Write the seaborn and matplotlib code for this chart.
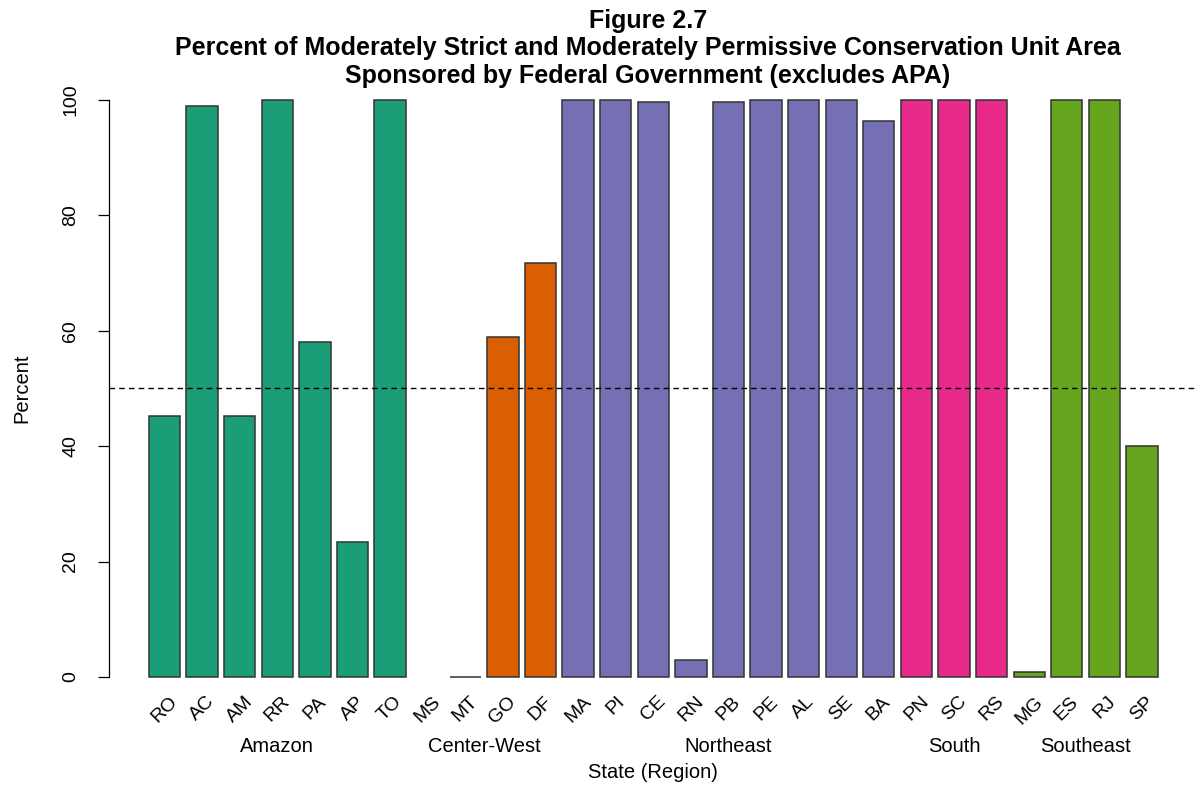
import numpy as np
import pandas as pd
import matplotlib
matplotlib.use("Agg")
import matplotlib.pyplot as plt
import matplotlib.transforms as mtransforms
import seaborn as sns

# data
states = ["RO", "AC", "AM", "RR", "PA", "AP", "TO",
          "MS", "MT", "GO", "DF",
          "MA", "PI", "CE", "RN", "PB", "PE", "AL", "SE", "BA",
          "PN", "SC", "RS",
          "MG", "ES", "RJ", "SP"]
regions = ["Amazon"] * 7 + ["Center-West"] * 4 + ["Northeast"] * 9 + ["South"] * 3 + ["Southeast"] * 4
percent = [45.2, 99.0, 45.2, 100, 58.1, 23.4, 100,
           np.nan, 0.0, 59.0, 71.8,
           100, 100, 99.7, 2.9, 99.7, 100, 100, 100, 96.3,
           100, 100, 100,
           0.8, 100, 100, 40.0]
region_names = ["Amazon", "Center-West", "Northeast", "South", "Southeast"]
region_colors = ["#1B9E77", "#D95F02", "#7570B3", "#E7298A", "#66A61E"]

df = pd.DataFrame({"state": states, "region": regions, "percent": percent})
df_bars = df.dropna()

sns.set_style("white")
plt.rcParams["font.family"] = ["Liberation Sans", "DejaVu Sans"]
plt.rcParams["text.color"] = "black"
plt.rcParams["axes.labelcolor"] = "black"
plt.rcParams["xtick.color"] = "black"
plt.rcParams["ytick.color"] = "black"

fig = plt.figure(figsize=(11.98, 7.86), dpi=100)
ax = fig.add_axes([0.0906, 0.1094, 0.9094, 0.7927])

sns.barplot(data=df_bars, x="state", y="percent", hue="region", order=states,
            hue_order=region_names, palette=region_colors, dodge=False, saturation=1,
            width=1 / 1.2, edgecolor="#333333", linewidth=1.1, legend=False, ax=ax)

# 50% reference line
ax.axhline(50, color="black", lw=1, ls=(0, (4, 3)))

ax.set_xlim(-1.49, 27.49)
ax.set_ylim(-4, 104)
ax.set_yticks([0, 20, 40, 60, 80, 100])
for s in ["top", "right", "bottom"]:
    ax.spines[s].set_visible(False)
ax.spines["left"].set_bounds(0, 100)
ax.spines["left"].set_color("black")
ax.spines["left"].set_linewidth(0.9)
ax.tick_params(axis="y", length=8, width=0.9, pad=13, labelsize=14, direction="out", left=True)
for lab in ax.get_yticklabels():
    lab.set_rotation(90)
    lab.set_va("center")
ax.tick_params(axis="x", length=0, pad=-5, labelsize=14)
for lab in ax.get_xticklabels():
    lab.set_rotation(45)
    lab.set_ha("center")

ax.set_xlabel("")
ax.set_ylabel("Percent", fontsize=14.5, labelpad=22)

# region names under the groups of states
trans = mtransforms.blended_transform_factory(ax.transData, ax.transAxes)
pos = {s: i for i, s in enumerate(states)}
for r in region_names:
    idx = [pos[s] for s, g in zip(states, regions) if g == r]
    ax.text(np.mean(idx), -0.0754, r, transform=trans, ha="center", va="center", fontsize=14.5)
ax.text(0.5, -0.117, "State (Region)", transform=ax.transAxes, ha="center", va="center", fontsize=14.5)

title = ("Figure 2.7\n"
         "Percent of Moderately Strict and Moderately Permissive Conservation Unit Area\n"
         "Sponsored by Federal Government (excludes APA)")
fig.text(0.541, 1 - 48.5 / 786, title, ha="center", va="center", fontsize=18,
         fontweight="bold", linespacing=1.2)

fig.savefig("out.png", dpi=100)
